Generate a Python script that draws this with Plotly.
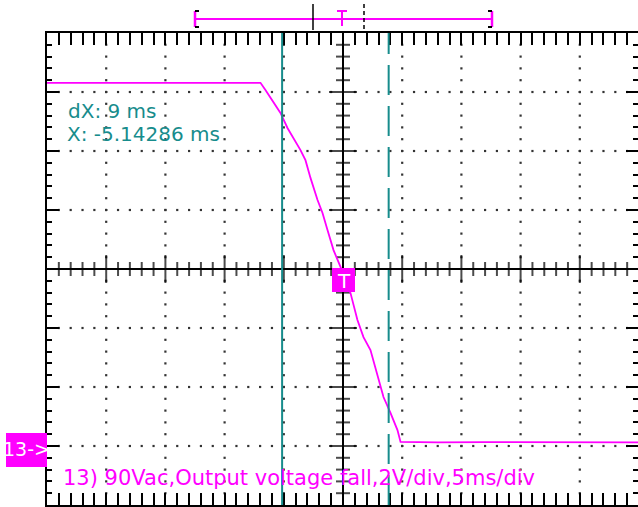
import plotly.graph_objects as go

# ---- data (read from the scope capture) ----
time_ms = [-25.0, -6.97, -6.55, -5.87, -5.28, -4.69, -4.18, -3.59, -3.17, -2.74,
           -2.15, -1.73, -1.31, -0.80, -0.21, 0.63, 1.22, 1.73, 2.32, 2.99,
           3.42, 4.01, 4.60, 4.86, 8.0, 12.0, 16.0, 20.0, 25.0]
volts = [12.31, 12.31, 12.07, 11.63, 11.29, 10.78, 10.44, 10.03, 9.69, 9.08,
         8.34, 7.90, 7.32, 6.64, 6.07, 5.19, 4.27, 3.69, 3.25, 2.31,
         1.66, 1.12, 0.54, 0.14, 0.12, 0.13, 0.12, 0.13, 0.12]
cursor_x_ms = -5.14286
cursor_dx_ms = 9.0
ms_per_div = 5
v_per_div = 2
n_xdiv = 10
n_ydiv = 8
ch_label = "13->"
caption = "13) 90Vac,Output voltage fall,2V/div,5ms/div"

MAG = "#FF00FF"
TEAL = "#178c8c"

W, H = 638, 507
L, T_, B = 47, 33, 505
PW = W - L
PH = B - T_
px_per_ms = 59.2 / ms_per_div
x0 = -ms_per_div * n_xdiv / 2
x1 = x0 + PW / px_per_ms
y0 = -v_per_div
y1 = y0 + v_per_div * n_ydiv
yc = (y0 + y1) / 2


def pxx(p):
    return (p - L) / PW


def pxy(p):
    return (B - p) / PH


fig = go.Figure()

# dotted graticule
dx, dy = [], []
maj_cols = [x0 + ms_per_div * k for k in range(1, n_xdiv) if x0 + ms_per_div * k != 0]
maj_rows = [y0 + v_per_div * k for k in range(1, n_ydiv) if y0 + v_per_div * k != yc]
for r in maj_rows:
    t = x0 + 1
    while t < x1:
        if abs(t) > 1e-9:
            dx.append(t); dy.append(r)
        t += 1
for c in maj_cols:
    k = 1
    while y0 + 0.4 * k < y1 - 1e-9:
        v = y0 + 0.4 * k
        if abs(v - yc) > 1e-9:
            dx.append(c); dy.append(v)
        k += 1
fig.add_trace(go.Scatter(x=dx, y=dy, mode="markers",
                         marker=dict(symbol="square", size=2.2, color="#333333"),
                         hoverinfo="skip", showlegend=False))

# center crosshair ticks
hx, hs = [], []
t = x0 + 1
while t < x1 - 0.5:
    if abs(t) > 1e-9:
        hx.append(t); hs.append(20 if abs(t % 5) < 1e-9 else 10)
    t += 1
fig.add_trace(go.Scatter(x=hx, y=[yc] * len(hx), mode="markers",
                         marker=dict(symbol="line-ns", size=hs,
                                     line=dict(color="black", width=2)),
                         hoverinfo="skip", showlegend=False))
vy, vs = [], []
k = 1
while y0 + 0.4 * k < y1 - 1e-9:
    v = round(y0 + 0.4 * k, 6)
    if abs(v - yc) > 1e-9:
        vy.append(v); vs.append(20 if abs(v % 2) < 1e-6 else 10)
    k += 1
fig.add_trace(go.Scatter(x=[0] * len(vy), y=vy, mode="markers",
                         marker=dict(symbol="line-ew", size=vs,
                                     line=dict(color="black", width=2)),
                         hoverinfo="skip", showlegend=False))

# waveform
fig.add_trace(go.Scatter(x=time_ms, y=volts, mode="lines",
                         line=dict(color=MAG, width=1.8),
                         hoverinfo="skip", showlegend=False))

# invisible trace for right tick axis
fig.add_trace(go.Scatter(x=[x0], y=[y0], yaxis="y2", mode="markers",
                         marker=dict(size=0.1, opacity=0), showlegend=False,
                         hoverinfo="skip"))

shapes = []
# center lines
shapes.append(dict(type="line", xref="paper", yref="y", x0=0, x1=1, y0=yc, y1=yc,
                   line=dict(color="black", width=2)))
shapes.append(dict(type="line", xref="x", yref="paper", x0=0, x1=0, y0=0, y1=1,
                   line=dict(color="black", width=2)))
# cursors
c2 = cursor_x_ms + cursor_dx_ms
shapes.append(dict(type="line", xref="x", yref="paper", x0=cursor_x_ms, x1=cursor_x_ms,
                   y0=0, y1=1, line=dict(color=TEAL, width=2)))
shapes.append(dict(type="line", xref="x", yref="paper", x0=c2, x1=c2,
                   y0=0, y1=1, line=dict(color=TEAL, width=2, dash="30px,11px")))

# top record bar
def pline(xa, ya, xb, yb, color, w=2, dash=None):
    ln = dict(color=color, width=w)
    if dash:
        ln["dash"] = dash
    shapes.append(dict(type="line", xref="paper", yref="paper",
                       x0=pxx(xa), y0=pxy(ya), x1=pxx(xb), y1=pxy(yb), line=ln))

pline(195, 19, 492, 19, MAG)
pline(195, 11, 195, 27, MAG, 2.5)
pline(195, 11, 199, 11, "black", 2)
pline(195, 27, 199, 27, "black", 2)
pline(492, 11, 492, 27, MAG, 2.5)
pline(488, 11, 492, 11, "black", 2)
pline(488, 27, 492, 27, "black", 2)
pline(313, 4, 313, 30, "black", 1.5)
pline(364, 4, 364, 30, "black", 1.5, "4px,3px")
pline(337, 11, 347, 11, MAG, 2)
pline(342, 11, 342, 26, MAG, 2)

# T marker box
shapes.append(dict(type="rect", xref="paper", yref="paper", x0=pxx(332), x1=pxx(355),
                   y0=pxy(292), y1=pxy(268), fillcolor=MAG, line=dict(width=0)))
# channel marker box
shapes.append(dict(type="rect", xref="paper", yref="paper", x0=pxx(6), x1=pxx(47),
                   y0=pxy(467), y1=pxy(433), fillcolor=MAG, line=dict(width=0)))

FONT = "DejaVu Sans"
ann = [
    dict(x=pxx(66), y=pxy(111), text=f"dX: {cursor_dx_ms:g} ms",
         font=dict(family=FONT, size=20, color=TEAL)),
    dict(x=pxx(65), y=pxy(134), text=f"X: {cursor_x_ms:g} ms",
         font=dict(family=FONT, size=20, color=TEAL)),
    dict(x=pxx(61), y=pxy(478), text=caption,
         font=dict(family=FONT, size=21, color=MAG)),
]
annotations = []
for a in ann:
    annotations.append(dict(xref="paper", yref="paper", x=a["x"], y=a["y"], text=a["text"],
                            showarrow=False, xanchor="left", yanchor="middle",
                            font=a["font"]))
annotations.append(dict(xref="paper", yref="paper", x=pxx(343.5), y=pxy(280.5), text="T",
                        showarrow=False, xanchor="center", yanchor="middle",
                        font=dict(family=FONT, size=20, color="white")))
annotations.append(dict(xref="paper", yref="paper", x=pxx(26.5), y=pxy(449), text=ch_label,
                        showarrow=False, xanchor="center", yanchor="middle",
                        font=dict(family=FONT, size=19, color="white")))

axis_common = dict(showgrid=False, zeroline=False, showticklabels=False,
                   ticks="inside", ticklen=12, tickwidth=2, tickcolor="black")

fig.update_layout(
    width=W, height=H,
    margin=dict(l=L, r=0, t=T_, b=H - B, pad=0),
    paper_bgcolor="white", plot_bgcolor="white",
    showlegend=False,
    xaxis=dict(range=[x0, x1], tick0=x0, dtick=ms_per_div, showline=True, linewidth=2,
               linecolor="black", mirror="allticks",
               minor=dict(dtick=1, ticks="inside", ticklen=5, tickwidth=2, tickcolor="black"),
               **axis_common),
    yaxis=dict(range=[y0, y1], tick0=y0, dtick=v_per_div, showline=True, linewidth=2,
               linecolor="black", mirror=False,
               minor=dict(dtick=0.4, ticks="inside", ticklen=5, tickwidth=2, tickcolor="black"),
               **axis_common),
    yaxis2=dict(range=[y0, y1], tick0=y0, dtick=v_per_div, overlaying="y", side="right",
                showline=False,
                minor=dict(dtick=0.4, ticks="inside", ticklen=5, tickwidth=2, tickcolor="black"),
                **axis_common),
    shapes=shapes,
    annotations=annotations,
)

fig.write_html("out.html",
               config={"displayModeBar": False},
               post_script="document.body.style.margin='0';"
                           "document.documentElement.style.overflow='hidden';")
